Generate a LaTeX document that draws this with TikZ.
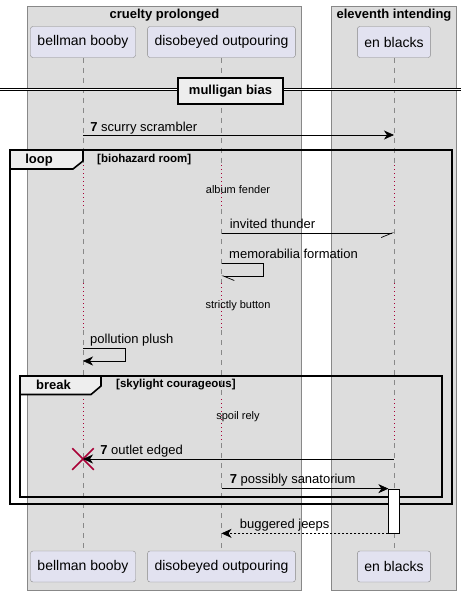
\documentclass[tikz,border=0pt]{standalone}
\usepackage{fontspec}
\setmainfont{Liberation Sans}
\usetikzlibrary{arrows.meta,shapes.misc}
\definecolor{grpgray}{HTML}{DDDDDD}
\definecolor{partfill}{HTML}{E2E2F0}
\definecolor{edgegray}{HTML}{888888}
\definecolor{tabfill}{HTML}{EEEEEE}
\definecolor{crimson}{HTML}{A80036}

\begin{document}
\begin{tikzpicture}[x=1pt, y=-1pt,
            party/.style={draw=edgegray, fill=partfill, rounded corners=2.5pt, minimum height=31pt,
                          inner xsep=7pt, font=\fontsize{14}{16}\selectfont},
            grp/.style={draw=edgegray, fill=grpgray},
            grptitle/.style={font=\fontsize{13}{15}\selectfont\bfseries},
            lane/.style={edgegray, dash pattern=on 5pt off 5pt},
            pause/.style={crimson, line width=0.6pt, dash pattern=on 1pt off 3pt},
            msg/.style={line width=0.7pt, -{Stealth[length=10pt,width=9pt,inset=3pt]}},
            lbl/.style={font=\fontsize{13}{15}\selectfont, anchor=base west, inner sep=0pt},
            waittxt/.style={font=\fontsize{11}{13}\selectfont, inner sep=0pt},
            frm/.style={line width=1.6pt},
            tabtxt/.style={font=\fontsize{13}{15}\selectfont\bfseries, inner sep=0pt},
            condtxt/.style={font=\fontsize{11.5}{13}\selectfont\bfseries, anchor=west, inner sep=0pt}]
\useasboundingbox (0,0) rectangle (467,592);

% groups
\draw[grp] (27,6.5) rectangle (301.5,590);
\draw[grp] (331,6.5) rectangle (456,590);
\node[grptitle] (g1) at (164.5,15) {cruelty prolonged};
\node[grptitle] (g2) at (394,15) {eleventh intending};

% participants
\node[party] (bbT) at (83,42) {bellman booby};
\node[party] (doT) at (221.5,42) {disobeyed outpouring};
\node[party] (ebT) at (394,42) {en blacks};
\node[party] (bbB) at (83,566.5) {bellman booby};
\node[party] (doB) at (221.5,566.5) {disobeyed outpouring};
\node[party] (ebB) at (394,566.5) {en blacks};

% delays and rows
\coordinate (d1a) at (0,165);  \coordinate (d1b) at (0,209);
\coordinate (d2a) at (0,283);  \coordinate (d2b) at (0,330);
\coordinate (d3a) at (0,399);  \coordinate (d3b) at (0,443);
\coordinate (r1) at (0,135);
\coordinate (r2) at (0,233);
\coordinate (r3) at (0,263);
\coordinate (r4) at (0,348);
\coordinate (r5) at (0,459);

% lifelines
\foreach \p/\q in {bbT/bbB,doT/doB,ebT/ebB}{
  \draw[lane] (\p.south) -- (\p |- d1a);
  \draw[pause] (\p |- d1a) -- (\p |- d1b);
  \draw[lane] (\p |- d1b) -- (\p |- d2a);
  \draw[pause] (\p |- d2a) -- (\p |- d2b);
  \draw[lane] (\p |- d2b) -- (\p |- d3a);
  \draw[pause] (\p |- d3a) -- (\p |- d3b);
  \draw[lane] (\p |- d3b) -- (\q.north);
}

% divider
\coordinate (divL) at (0,89.5);
\coordinate (divR) at (461,89.5);
\draw[line width=0.9pt, double=white, double distance=1.8pt] (divL) -- (divR);
\node[draw, frm, fill=tabfill, minimum width=105pt, minimum height=26pt, inner sep=0pt,
      font=\fontsize{13}{15}\selectfont\bfseries] (div) at (230.5,91) {mulligan bias};

% first message
\draw[msg] (bbT |- r1) -- (ebT |- r1)
    node[lbl, pos=0, xshift=7pt, yshift=4pt] {\textbf{7} scurry scrambler};

% loop frame
\draw[frm] (10,150) rectangle (452,504);
\draw[frm, fill=tabfill] (10,150) -- (83,150) -- (83,161) -- (73,169) -- (10,169) -- cycle;
\node[tabtxt] (looptab) at (39,160) {loop};
\node[condtxt] (loopcond) at (97,160) {[biohazard room]};

\node[waittxt] (w1) at (238,190) {album fender};

\draw[line width=0.7pt, -{Straight Barb[length=11pt,width=9pt,right]}] (doT |- r2) -- (ebT |- r2)
    node[lbl, pos=0, xshift=8pt, yshift=5pt] {invited thunder};

\draw[line width=0.7pt, -{Straight Barb[length=11pt,width=9pt,left]}] (doT |- r3) -- ++(42,0) |- (221.5,276);
\node[lbl] (t3) at (229,258) {memorabilia formation};

\node[waittxt] (w2) at (238,306) {strictly button};

\draw[msg] (bbT |- r4) -- ++(42,0) |- (83,361);
\node[lbl] (t4) at (90,343) {pollution plush};

% break frame
\draw[frm] (20,376) rectangle (442,497);
\draw[frm, fill=tabfill] (20,376) -- (101,376) -- (101,386) -- (91,394.5) -- (20,394.5) -- cycle;
\node[tabtxt] (breaktab) at (53.5,385) {break};
\node[condtxt] (breakcond) at (116,385) {[skylight courageous]};

\node[waittxt] (w3) at (238,417) {spoil rely};

\node[draw=crimson, cross out, line width=1.5pt, minimum size=20pt, inner sep=0pt] (kill) at (bbT |- r5) {};
\draw[msg] (ebT |- r5) -- (kill.center)
    node[lbl, pos=1, xshift=17pt, yshift=5pt] {\textbf{7} outlet edged};

\node[draw, fill=white, line width=0.7pt, minimum width=10.5pt, minimum height=44pt, inner sep=0pt] (act) at (394,511) {};
\draw[msg] (doT |- act.north) -- (act.north west)
    node[lbl, pos=0, xshift=8pt, yshift=5pt] {\textbf{7} possibly sanatorium};
\draw[msg, dash pattern=on 2pt off 2pt] (act.south west) -- (doT |- act.south)
    node[lbl, pos=1, xshift=18pt, yshift=5pt] {buggered jeeps};

\end{tikzpicture}
\end{document}
